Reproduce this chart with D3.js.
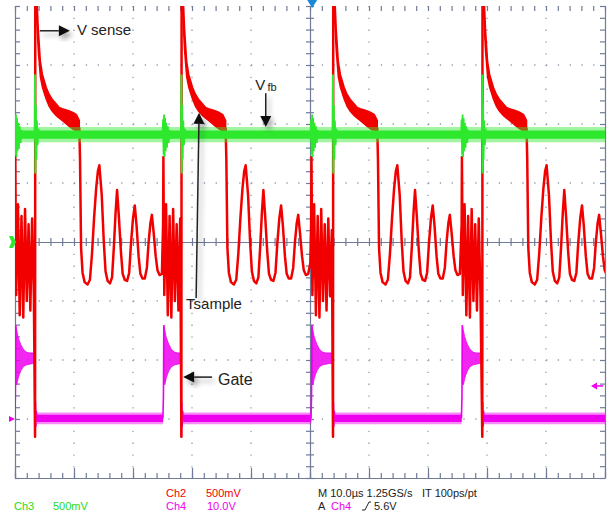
<!DOCTYPE html>
<html>
<head>
<meta charset="utf-8">
<script src="https://cdn.jsdelivr.net/npm/d3@7"></script>
<style>
  html, body { margin: 0; padding: 0; background: #fff; }
  svg { display: block; }
  text { font-family: "Liberation Sans", Arial, sans-serif; }
</style>
</head>
<body>
<svg id="scope" width="608" height="516"></svg>
<script>
// values
// time in µs (10 µs/div), levels in volts of each channel

// gate (Ch4) switching edges, µs
const gateRise = [0.0, 25.1, 50.2, 75.7];
const gateFall = [3.4, 28.2, 53.9, 79.2];

// Ch2 Vsense, 500 mV/div
// ringing while the gate is on [µs after rise, V]
const vsOn = [[0.00, 0.15], [0.05, 0.72], [0.20, -0.45], [0.50, 0.32], [0.80, -0.62], [1.10, 0.22],
  [1.40, -0.64], [1.70, 0.28], [2.00, -0.50], [2.30, 0.15], [2.60, -0.58], [2.90, 0.20],
  [3.20, -0.46], [3.50, 0.10], [3.80, -0.40]];
// turn-off edge [µs after fall, V]
const vsEdge = [[0.00, -1.65], [0.04, 2.40]];
// demagnetising plateau, a thick band [µs after fall, low V, high V]
const vsDecay = [[0.04, 2.20, 2.40], [0.30, 1.86, 2.10], [0.55, 1.62, 1.80], [0.90, 1.40, 1.53],
  [1.25, 1.31, 1.42], [1.90, 1.21, 1.31], [2.40, 1.15, 1.25], [2.90, 1.11, 1.21], [3.60, 1.07, 1.17],
  [4.10, 1.05, 1.14], [4.60, 1.03, 1.13], [5.30, 1.00, 1.12], [5.80, 0.98, 1.11], [6.30, 0.96, 1.10],
  [7.00, 0.94, 1.08], [7.50, 0.93, 1.03]];
// ringing after demagnetisation [µs after fall, V]
const vsRing = [[7.50, 0.97], [7.62, 0.70], [7.80, -0.05], [8.05, -0.26], [8.40, -0.34], [8.90, -0.36],
  [9.30, -0.32], [9.65, -0.10], [10.00, 0.20], [10.35, 0.45], [10.65, 0.60], [10.90, 0.65],
  [11.30, 0.40], [11.65, 0.00], [11.95, -0.25], [12.30, -0.33], [12.70, -0.35], [13.05, -0.30],
  [13.35, -0.05], [13.65, 0.25], [13.90, 0.44],
  [14.20, 0.22], [14.55, -0.08], [14.85, -0.27], [15.20, -0.32], [15.60, -0.33], [15.95, -0.26],
  [16.25, -0.02], [16.60, 0.20], [16.90, 0.31],
  [17.20, 0.14], [17.55, -0.12], [17.85, -0.27], [18.20, -0.31], [18.60, -0.31], [18.95, -0.22],
  [19.25, 0.00], [19.55, 0.16], [19.80, 0.23],
  [20.10, 0.08], [20.45, -0.12], [20.75, -0.24], [21.10, -0.28], [21.50, -0.27], [21.85, -0.18],
  [22.15, 0.00], [22.45, 0.10], [22.70, 0.14], [23.00, 0.02], [23.40, -0.15], [23.70, -0.22]];

// Ch3 Vfb, 500 mV/div
const vfbCore = [0.875, 0.945];
const vfbFuzz = [0.845, 0.975];
// burst at gate turn-on [µs after rise, V]
const vfbOn = [[-0.10, 0.91], [0.00, 1.04], [0.08, 0.74], [0.16, 1.08], [0.25, 0.72], [0.34, 1.05],
  [0.44, 0.77], [0.55, 1.01], [0.66, 0.80], [0.80, 0.98], [0.95, 0.84], [1.10, 0.95], [1.25, 0.88], [1.40, 0.91]];
// spike at gate turn-off [µs after fall, V]
const vfbOff = [[-0.06, 0.91], [0.00, 1.42], [0.06, 0.58], [0.13, 1.16], [0.21, 0.70], [0.30, 1.03],
  [0.42, 0.82], [0.56, 0.96], [0.72, 0.89], [0.85, 0.91]];

// Ch4 gate, 10 V/div
const gateLowCore = [-0.5, 0.7];
const gateLowFuzz = [-0.9, 1.1];
// on level with ringing [µs after rise, low V, high V]
const gateHigh = [[0.12, 6.0, 15.9], [0.30, 5.8, 15.0], [0.50, 6.8, 14.0], [0.75, 7.6, 13.2],
  [1.00, 8.2, 12.6], [1.30, 8.7, 12.0], [1.60, 9.0, 11.6], [2.00, 9.2, 11.3], [2.50, 9.3, 11.2],
  [3.00, 9.4, 11.2], [3.70, 9.4, 11.2]];
const gateUp = [[-0.03, 0.1], [0.02, 2.2], [0.06, 4.0], [0.12, 15.9]];
const gateDown = [[-0.03, 10.0], [0.00, -3.05], [0.07, 2.9], [0.14, -1.3], [0.22, 1.4], [0.32, -0.2], [0.45, 0.3]];

const trigLevel = 5.6;

// ---- layout ----
const plot = { left: 15, right: 605, top: 6, bottom: 478 };
const svg = d3.select('#scope');

const x = d3.scaleLinear().domain([0, 100]).range([plot.left, plot.right]);
const yDiv = d3.scaleLinear().domain([-4, 4]).range([plot.bottom, plot.top]);
const y2 = v => yDiv(v / 0.5);      // Ch2 500mV/div, ground at centre
const y3 = v => yDiv(v / 0.5);      // Ch3 500mV/div, ground at centre
const y4 = v => yDiv(v / 10 - 3);   // Ch4 10V/div, ground 3 div down

const red = '#f20000', green = '#2ee82e', magenta = '#ee00ee';
const axisColor = '#6f7b98';

svg.append('rect').attr('width', 608).attr('height', 516).attr('fill', '#fff');

const defs = svg.append('defs');
defs.append('clipPath').attr('id', 'clip')
  .append('rect')
  .attr('x', plot.left).attr('y', plot.top)
  .attr('width', plot.right - plot.left).attr('height', plot.bottom - plot.top);
const shadow = defs.append('filter').attr('id', 'shadow')
  .attr('x', '-50%').attr('y', '-50%').attr('width', '200%').attr('height', '200%');
shadow.append('feDropShadow')
  .attr('dx', 3).attr('dy', 4).attr('stdDeviation', 2.5)
  .attr('flood-color', '#000').attr('flood-opacity', 0.35);

// ---- graticule ----
const grid = svg.append('g');
const minorPx = (x(10) - x(0)) / 5;

d3.range(10, 100, 10).filter(t => t !== 50).forEach(t => {
  grid.append('line')
    .attr('x1', x(t)).attr('x2', x(t))
    .attr('y1', plot.top).attr('y2', plot.bottom)
    .attr('stroke', '#939bb0').attr('stroke-width', 1.3)
    .attr('stroke-dasharray', `1.3 ${minorPx - 1.3}`);
});
d3.range(-3, 4, 1).filter(d => d !== 0).forEach(d => {
  grid.append('line')
    .attr('x1', plot.left).attr('x2', plot.right)
    .attr('y1', yDiv(d)).attr('y2', yDiv(d))
    .attr('stroke', '#939bb0').attr('stroke-width', 1.3)
    .attr('stroke-dasharray', `1.3 ${minorPx - 1.3}`);
});

const minorT = d3.range(0, 100.01, 2);
const majorT = d3.range(0, 100.01, 10);
const minorV = d3.range(-20, 21).map(i => i / 5);

function styleAxis(g) {
  g.selectAll('path, line').attr('stroke', axisColor).attr('stroke-width', 1.2);
  g.selectAll('text').remove();
}
function noDomain(g) { g.select('.domain').remove(); }

// bottom frame
svg.append('g').attr('transform', `translate(0,${plot.bottom})`)
  .call(d3.axisTop(x).tickValues(minorT).tickSize(5).tickSizeOuter(0)).call(styleAxis);
svg.append('g').attr('transform', `translate(0,${plot.bottom})`)
  .call(d3.axisTop(x).tickValues(majorT).tickSize(10)).call(noDomain).call(styleAxis);
// top frame (ticks only)
svg.append('g').attr('transform', `translate(0,${plot.top})`)
  .call(d3.axisBottom(x).tickValues(minorT).tickSize(5)).call(noDomain).call(styleAxis);
// left frame
svg.append('g').attr('transform', `translate(${plot.left},0)`)
  .call(d3.axisRight(yDiv).tickValues(minorV).tickSize(5).tickSizeOuter(0)).call(styleAxis);
// right frame
svg.append('g').attr('transform', `translate(${plot.right},0)`)
  .call(d3.axisLeft(yDiv).tickValues(minorV).tickSize(5).tickSizeOuter(0)).call(styleAxis);
// centre cross
svg.append('g').attr('transform', `translate(0,${yDiv(0)})`)
  .call(d3.axisTop(x).tickValues(minorT).tickSize(4).tickSizeOuter(0)).call(styleAxis);
svg.append('g').attr('transform', `translate(0,${yDiv(0)})`)
  .call(d3.axisBottom(x).tickValues(minorT).tickSize(4)).call(noDomain).call(styleAxis);
svg.append('g').attr('transform', `translate(${x(50)},0)`)
  .call(d3.axisLeft(yDiv).tickValues(minorV).tickSize(4).tickSizeOuter(0)).call(styleAxis);
svg.append('g').attr('transform', `translate(${x(50)},0)`)
  .call(d3.axisRight(yDiv).tickValues(minorV).tickSize(4)).call(noDomain).call(styleAxis);

// ---- traces ----
const traces = svg.append('g').attr('clip-path', 'url(#clip)');
const nextRise = k => (k + 1 < gateRise.length ? gateRise[k + 1] : 100.5);

// Ch4 gate
const g4 = traces.append('g');
const lineGate = d3.line().x(d => x(d[0])).y(d => y4(d[1]));
const areaGate = d3.area().x(d => x(d[0])).y0(d => y4(d[1])).y1(d => y4(d[2]));

gateRise.forEach((tr, k) => {
  const tf = gateFall[k];
  // on level
  g4.append('path')
    .attr('d', areaGate(gateHigh.map(d => [Math.min(tr + d[0], tf), d[1], d[2]])))
    .attr('fill', magenta).attr('fill-opacity', 0.85)
    .attr('stroke', magenta).attr('stroke-width', 0.8);
  g4.append('path')
    .attr('d', lineGate(gateUp.map(d => [tr + d[0], d[1]])))
    .attr('fill', 'none').attr('stroke', magenta).attr('stroke-width', 1.6);
  // off level until the next rise
  const span = [tf + 0.3, nextRise(k)];
  g4.append('path')
    .attr('d', areaGate(span.map(t => [t, gateLowFuzz[0], gateLowFuzz[1]])))
    .attr('fill', magenta).attr('fill-opacity', 0.45);
  g4.append('path')
    .attr('d', areaGate(span.map(t => [t, gateLowCore[0], gateLowCore[1]])))
    .attr('fill', magenta);
  g4.append('path')
    .attr('d', lineGate(gateDown.map(d => [tf + d[0], d[1]])))
    .attr('fill', 'none').attr('stroke', magenta).attr('stroke-width', 1.6);
});

// Ch2 Vsense
const g2 = traces.append('g');
const line2 = d3.line().x(d => x(d[0])).y(d => y2(d[1]));
const area2 = d3.area().x(d => x(d[0])).y0(d => y2(d[1])).y1(d => y2(d[2]));

const redPaths = [];
let cur = [];
gateRise.forEach((tr, k) => {
  const tf = gateFall[k];
  vsOn.forEach(d => { if (tr + d[0] < tf) cur.push([tr + d[0], d[1]]); });
  vsEdge.forEach(d => cur.push([tf + d[0], d[1]]));
  redPaths.push(cur);
  g2.append('path')
    .attr('d', area2(vsDecay.map(d => [tf + d[0], d[1], d[2]])))
    .attr('fill', red).attr('stroke', red).attr('stroke-width', 1.5);
  cur = vsRing.filter(d => tf + d[0] < nextRise(k)).map(d => [tf + d[0], d[1]]);
});
redPaths.push(cur);

redPaths.forEach(p => {
  g2.append('path')
    .attr('d', line2(p))
    .attr('fill', 'none').attr('stroke', red)
    .attr('stroke-width', 2.5).attr('stroke-linejoin', 'round');
});

// Ch3 Vfb
const g3 = traces.append('g');
const line3 = d3.line().x(d => x(d[0])).y(d => y3(d[1]));
g3.append('path')
  .attr('d', d3.area().x(d => x(d)).y0(y3(vfbFuzz[0])).y1(y3(vfbFuzz[1]))([0, 100]))
  .attr('fill', green).attr('fill-opacity', 0.45);
g3.append('path')
  .attr('d', d3.area().x(d => x(d)).y0(y3(vfbCore[0])).y1(y3(vfbCore[1]))([0, 100]))
  .attr('fill', green);
gateRise.forEach((tr, k) => {
  g3.append('path')
    .attr('d', line3(vfbOn.map(d => [tr + d[0], d[1]])))
    .attr('fill', 'none').attr('stroke', green).attr('stroke-width', 1.8);
  g3.append('path')
    .attr('d', line3(vfbOff.map(d => [gateFall[k] + d[0], d[1]])))
    .attr('fill', 'none').attr('stroke', green).attr('stroke-width', 2);
});

// ---- channel markers ----
const gy3 = y3(0);
svg.append('polygon')
  .attr('points', [[9, gy3 - 6], [13, gy3 - 6], [16, gy3], [13, gy3 + 6], [9, gy3 + 6], [11.5, gy3]].join(' '))
  .attr('fill', green);
const gy4 = y4(0);
svg.append('polygon')
  .attr('points', [[9, gy4 - 3], [15, gy4], [9, gy4 + 3]].join(' '))
  .attr('fill', magenta);
// trigger level
const ty = y4(trigLevel);
svg.append('line')
  .attr('x1', 603).attr('x2', 596).attr('y1', ty).attr('y2', ty)
  .attr('stroke', magenta).attr('stroke-width', 1.5);
svg.append('polygon')
  .attr('points', [[591, ty], [597, ty - 3.5], [597, ty + 3.5]].join(' '))
  .attr('fill', magenta);
// trigger position
const tx = x(gateRise[2]) + 1;
svg.append('polygon')
  .attr('points', [[tx - 5, 0], [tx + 5, 0], [tx, 8]].join(' '))
  .attr('fill', '#1e88d8');

// ---- annotations ----
const notes = svg.append('g').attr('fill', '#222');

function arrow(x1, y1, x2, y2) {
  const a = Math.atan2(y2 - y1, x2 - x1);
  const len = 11, half = 5.5;
  const bx = x2 - len * Math.cos(a), by = y2 - len * Math.sin(a);
  const g = notes.append('g').attr('filter', 'url(#shadow)');
  g.append('line')
    .attr('x1', x1).attr('y1', y1).attr('x2', bx).attr('y2', by)
    .attr('stroke', '#222').attr('stroke-width', 1.5);
  g.append('polygon')
    .attr('points', [[x2, y2],
      [bx + half * Math.sin(a), by - half * Math.cos(a)],
      [bx - half * Math.sin(a), by + half * Math.cos(a)]].join(' '))
    .attr('fill', '#111');
}

// V sense
arrow(x(4.2), yDiv(3.58), x(9.3), yDiv(3.58));
notes.append('text').attr('x', x(10.5)).attr('y', yDiv(3.51))
  .attr('font-size', 15).text('V sense');
// V fb
notes.append('text').attr('x', x(40.7)).attr('y', yDiv(2.58))
  .attr('font-size', 15).text('V');
notes.append('text').attr('x', x(42.8)).attr('y', yDiv(2.56))
  .attr('font-size', 11).text('fb');
arrow(x(42.5), yDiv(2.52), x(42.5), yDiv(1.95));
// T sample
arrow(x(30.7), yDiv(-0.95), x(31.2), yDiv(2.19));
notes.append('text').attr('x', x(29.0)).attr('y', yDiv(-1.14))
  .attr('font-size', 15).text('Tsample');
// Gate
arrow(x(33.4), yDiv(-2.29), x(28.5), yDiv(-2.29));
notes.append('text').attr('x', x(34.4)).attr('y', yDiv(-2.42))
  .attr('font-size', 16).text('Gate');

// ---- readout ----
const readout = svg.append('g').attr('font-size', 11);
const put = (tx, ty, s, c) => readout.append('text').attr('x', tx).attr('y', ty).attr('fill', c).text(s);
put(14, 510, 'Ch3', '#22dd22');
put(53, 510, '500mV', '#22dd22');
put(166, 497, 'Ch2', red);
put(206, 497, '500mV', red);
put(166, 510, 'Ch4', magenta);
put(207, 510, '10.0V', magenta);
put(318, 497, 'M 10.0\u00b5s 1.25GS/s', '#222');
put(422, 497, 'IT 100ps/pt', '#222');
put(318, 510, 'A', '#222');
put(331, 510, 'Ch4', magenta);
put(374, 510, '5.6V', '#222');
// rising-edge symbol
readout.append('path')
  .attr('d', 'M362,510 L365,510 L369,502 L371,502')
  .attr('fill', 'none').attr('stroke', '#222').attr('stroke-width', 1);
</script>
</body>
</html>
